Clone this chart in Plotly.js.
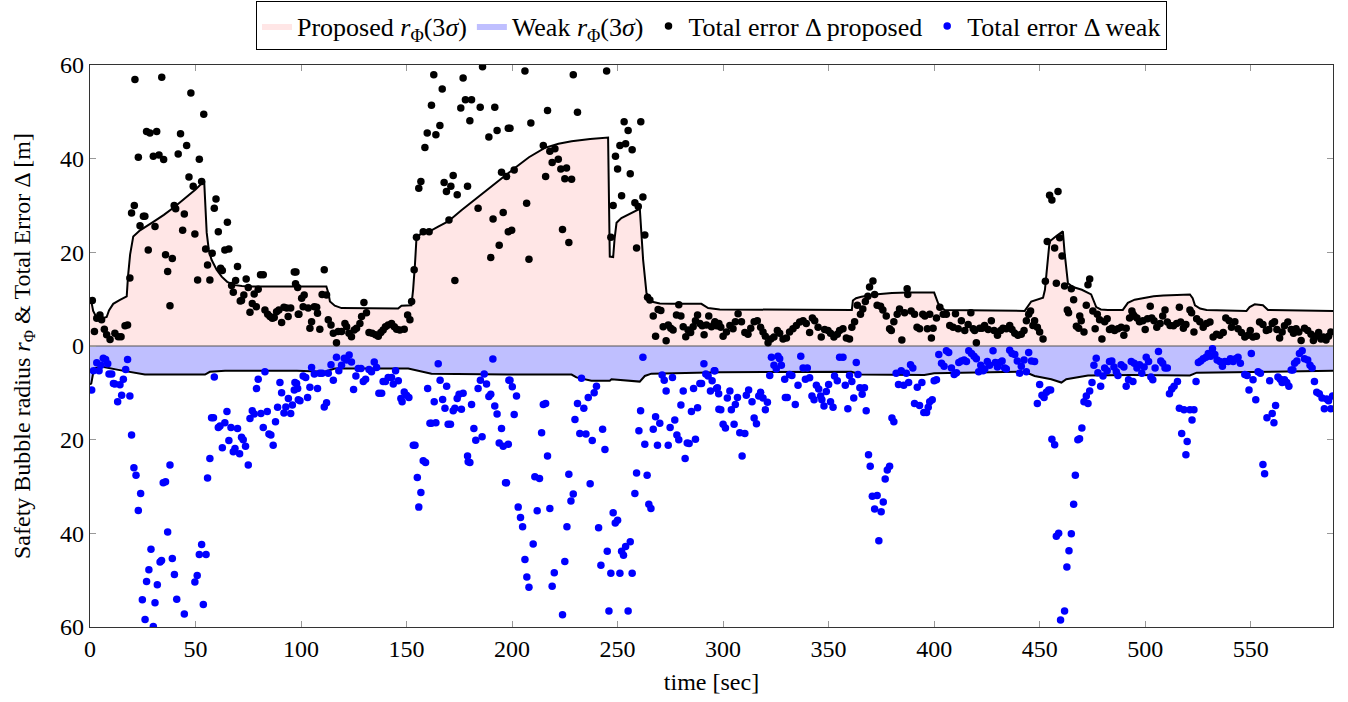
<!DOCTYPE html>
<html>
<head>
<meta charset="utf-8">
<script src="https://cdn.plot.ly/plotly-3.0.1.min.js"></script>
<style>html,body{margin:0;padding:0;background:#fff;}#chart{width:1348px;height:702px;}</style>
</head>
<body>
<div id="chart"></div>
<script>
// ---------- DATA ----------
const xTickVals = [0,50,100,150,200,250,300,350,400,450,500,550];
const yTickVals = [-60,-40,-20,0,20,40,60];
const yTickText = ['60','40','20','0','20','40','60'];

// Proposed safety bubble radius r_Phi(3 sigma) [m]
const propRadT = [0,0.5,1.5,3.2,5,7.9,9,11,14,17.4,18,19,20.5,23.7,30,35,40.3,45,50,54.1,55.3,56.3,57.6,60,62.4,65,68.7,72,76.6,98.6,112,113,113.7,116,119.2,146,147.6,152.3,153.1,154,154.7,157.9,161.8,165,169.7,176,182.4,190,196.6,201.3,208,215.5,222,228.2,237,245.5,246.3,247.9,248.6,249.5,251.8,256,259.7,260.5,261.3,262.1,263.7,266,270,275.5,289.7,292.9,298.4,330,361,361.5,363,365.5,371.8,380,387.5,400,401.9,403.5,405,442.9,446,451.6,452.5,453.2,454.7,457.9,461,461.8,462.6,463.4,465.8,470,474.4,476.8,479,482.3,489.4,491.8,495,499.2,504,508.6,521.2,522.5,523.6,526,529.1,548,549.5,551.9,555.8,558.2,589];
const propRadV = [9.6,9.8,7.5,6.0,5.8,6.2,7.6,9.0,9.8,10.6,14.8,19.5,23.4,24.7,26.5,28,29.8,31.5,33.4,35.2,24.2,20.5,18.4,16.3,14.8,13.7,13,12.8,12.7,12.7,12.7,11.2,9.5,8.6,8.1,8,8.6,8.7,12,17.5,23,24.5,24.7,25.5,26.6,29,31.3,34,36.5,38,40.3,42.3,43.2,43.7,44.2,44.5,19.1,19,23,26.3,27.3,28.2,29.1,29.5,24,18.4,11.3,9.5,9.1,9,9,8.1,7.8,7.7,7.7,9.7,10.2,10.5,11,11.3,11.4,11.4,9.1,8.1,7.7,7.5,9.5,10.3,12,15.3,22.3,23.5,24.5,20,16,13.4,12.6,12,11,8.3,7.8,7.7,7.7,9.2,9.9,10.3,10.6,10.8,11,10.2,8.7,8,7.7,7.5,8.3,8.9,8.7,7.7,7.5];

// Weak safety bubble radius r_Phi(3 sigma) [m] (drawn below zero)
const weakRadT = [0,0.6,1.9,5.3,13.4,20,26,54.5,56.8,64,98,111.3,116,150.8,154,161.8,198,228.2,230.5,237.6,246.3,247.1,260.5,262.9,266,278.7,298.4,360.7,365.5,395.4,400,442.9,447.6,455.5,460.3,462.6,472.9,493,521.2,524.4,548,589];
const weakRadV = [8.2,8,4.8,4.4,5.1,5.7,6.1,6.1,5.5,5.3,5.3,5.5,4.8,4.8,5.1,5.9,6.1,6.1,6.7,7.4,7.4,7.1,7.6,6.4,5.9,5.8,5.6,5.5,6.1,6.2,5.8,5.5,6.4,7.1,7.8,7.1,6.3,6.2,6.3,5.7,5.5,5.3];

// Total error Delta, proposed [m]
const propErrT = [1.1,2.1,3.2,4.7,5.5,6.8,7.9,9.5,11.8,13.4,14.7,16.6,17.8,18.9,19.7,21,21.3,22.9,23.7,25.3,26,26.8,28.4,27.6,30,30.8,31.6,32.7,34,34.9,35.8,36.8,37.9,39,39.9,40.6,41.8,42.9,43.9,44.7,45.8,46.9,47.8,48.9,49.7,51,51.8,52.9,53.9,54.8,55.7,56.8,57.9,58.9,59.7,60.8,61.9,62.7,63.9,65.1,65.8,67.1,67.9,69,69.9,71.2,71.8,72.9,74,75,75.8,76.9,77.8,78.8,79.7,80.8,82.1,82.9,84.2,85.3,86.4,87.3,88.4,89.5,90.8,91.9,93.2,93.9,95.1,96.8,97.4,98.7,
97.6,98.4,100.3,101.5,99,101,103.4,105,104.2,106.3,107.4,107.8,108.9,110,111,112.1,112.9,114.2,115.3,116.8,117.6,119.2,120.8,121.6,122.7,123.9,125.2,126.3,127.9,128.7,129.8,131,132.2,133.7,135.3,136.6,137.8,138.9,140,141.3,142.9,144.2,145.3,146.8,148.9,150.5,151.6,152.4,153.6,154.7,155.8,156.8,157.9,158.7,159.8,160.7,161.8,162.9,163.9,165.8,166.9,167.8,168.9,170.1,171,172.1,172.9,174,175.7,176.8,177.9,178.9,180,180.8,183.9,184.9,186,189,189.9,191,191.8,192.9,193.9,195,195.8,198.2,198.2,
199,197.4,199.8,201,206.1,206.9,208,208.9,214.8,215.9,216.8,217.9,219,220.3,221.9,223.1,223.9,225,225.8,226.9,228.2,229,231,244.8,246.8,247.9,249,250,251.1,253.1,253.8,255,256,256.9,251.9,258.2,259,259.8,261,262,262.9,264.2,265.3,266.9,268,269.2,270.5,271.6,273,274,275.2,276.3,277.9,279,280,281.1,282.3,283.4,284.6,285.8,286.9,287.9,289,290.1,291,292.1,293.2,294.5,295.8,296.9,298,
296.1,297.6,298.9,300,301.6,303.2,304.7,305.8,307.1,308.7,310.3,311.8,313.1,314.7,316.2,317.8,318.9,320,321.3,322.6,324.1,325.7,326.8,328.4,330,331.5,333.1,334.7,336.3,337.9,339.4,341,342.3,343.4,345,346.5,348.1,349.7,350.9,352.5,354.1,355.2,356.8,358.4,359.9,361,362.3,363.6,365.1,366.2,367.4,368.6,369.4,371,371.8,373,374.6,375.7,377.3,378.9,379.7,380.9,382.5,383.6,384.7,386,387.2,387.5,389.1,390.7,391.9,393.1,394.6,
395.6,396.8,397.9,399.5,398.7,401.1,402.7,404.3,405.8,407.4,409,410.1,411.4,412.9,414.5,416.1,417.4,418.5,419.2,420,421.6,422.7,423.9,425.6,427.1,428.4,430,431.5,432.6,434.2,435.8,436.9,438.2,439.7,441.3,442.6,443.7,444.8,445.7,446.8,447.6,448.9,450,451.6,452.7,453.6,454.7,455.8,457.1,458.7,459.5,460.6,457.9,461.8,463.1,463.7,465,466.1,467.4,468.5,469,469.7,471,472.1,472.9,473.7,475.2,476.3,477.3,478.4,479.5,480.8,482,483.1,484.2,485.5,487.1,488.6,489.9,491,492.6,494.2,
493.7,494.8,496.1,497.3,498.9,500,501.1,502.4,503.1,504.2,505.5,507.1,508.3,509.4,510.5,511.8,513.4,514.9,516.2,516.8,518.1,519.3,521.2,522,523.1,524.4,525.9,527.5,529.1,530.7,532.2,533.8,535.4,537,538.2,539.8,540.9,542.5,544,545.6,547.2,548.7,549.8,551.1,552.7,554.2,555.8,557.4,558.6,560.2,561.3,562.4,563.7,564.9,566,567.6,569.2,570.3,571.5,572.8,573.9,575.5,577,578.6,579.7,581,582.2,583.3,584.4,585.7,586.9,588];
const propErrV = [9.7,3.1,5.9,6.6,5.6,3.6,2.4,1.4,2.7,2.0,2.0,4.3,4.5,14.5,28.4,30,56.9,40.3,25.7,27.7,27.7,45.8,45.5,20.5,40.5,25.5,45.8,40.8,57.4,39.8,19.5,15.9,8.6,18.7,30,29.3,41,45.3,24.7,28.2,42.8,36.1,54,34.1,23.9,14.1,39.9,35.1,49.5,20.7,17.3,14.1,19.8,29.4,31.4,24.4,16.6,16.1,20.5,26.4,20.7,12.9,11.5,14,17,9.6,9.7,10.9,14.3,12.5,7.2,9.1,11.1,8.4,12.1,15.2,15.2,7.7,6.8,6.3,5.9,6.1,7.3,7.7,5.0,8.3,8.1,6.3,8.1,15.8,13.3,6.8,
15.8,12.5,10.2,10.9,6.8,8.4,8.1,5.2,3.8,8.4,8.3,7,3.6,11,16.3,10.9,5.6,4.5,2.7,0.7,3.1,3.1,4.8,4.1,2.7,2.0,3.4,3.8,4.8,6.3,9.3,7.1,2.9,2.7,2.4,2.1,2.9,3.4,4.1,4.5,4.8,4.1,3.6,3.4,3.6,6.6,5.6,9.5,16.3,23.2,33.7,35.1,24.4,42.4,45.5,24.4,51.4,57.9,45.1,47.1,54.9,34.9,33,26.9,34.1,36.4,14,32.3,50.8,57.2,52.6,34.1,48.1,52.6,29.4,51,59.6,44.6,18.9,27.1,51,46,21.5,37.1,28.5,46.5,24.4,
46.5,36.2,24.7,37.6,58.7,30.5,18.5,47.6,42.8,36.2,50.3,41.6,39.2,42.1,39.9,37.8,24.9,35.7,38,22.1,35.6,57.9,49.9,58.7,23.2,30,40.5,37.8,42.8,47.9,43.2,46,36.8,41.9,32.1,30.6,20.9,29.8,47.9,31.8,23.7,10.4,9.8,6.4,2.1,7.8,7.6,4.1,1.1,4.5,3.8,3.4,6.6,8.8,6.4,4.1,2,3.4,2.9,4.1,5.4,6.6,4.8,4.3,2.4,4.5,6.4,4.1,4.7,4.3,4.8,
5.2,4.4,4.0,2.1,3.0,4.4,3.7,5.2,6.9,5.2,2.9,2.5,3.8,5.2,5.4,4.0,3.0,2.1,0.7,1.5,1.9,3.3,2.7,1.5,1.7,3.0,3.7,4.4,5.1,5.4,4.8,2.9,6.0,5.4,4.0,1.9,3.5,3.3,2.7,1.9,2.5,3.3,3.7,1.7,1.5,4.0,5.2,8.7,6.8,7.9,9.5,10.6,12.6,13.9,11.0,8.7,8.5,7.7,6.4,3.7,3.3,5.2,6.8,7.9,1.3,7.1,12.2,11.0,7.5,6.8,4.0,3.7,6.8,
6.4,3.7,6.8,3.8,1.7,6.0,8.3,6.8,6.8,4.4,4.0,6.9,3.7,5.4,3.3,4.6,7.1,3.7,3.3,0.7,3.8,3.8,4.4,3.5,5.4,3.3,2.3,3.3,3.8,3.7,4.4,3.5,2.7,2.3,2.5,3.3,5.4,6.8,7.5,4.4,5.4,4.0,3.0,1.5,13.8,22.3,32.2,31.2,20.9,33.0,23.1,19.2,13.4,12.8,7.7,7.1,12.2,9.9,4.2,3.8,6.4,5.4,3.0,8.7,13.1,14.3,7.5,3.7,6.8,5.6,1.5,5.2,5.8,3.5,3.8,3.3,3.7,4.0,2.3,3.8,6.0,6.8,
7.5,6.4,6.0,5.2,5.4,3.5,5.8,8.5,6.0,5.4,4.0,4.8,6.4,7.7,5.1,4.4,4.3,4.8,8.3,5.1,3.8,4.6,7.7,7.1,3.0,5.8,5.2,4.0,4.8,5.1,1.9,2.5,2.3,2.9,6.0,5.4,4.0,5.2,3.7,2.9,1.9,2.3,3.3,1.9,2.1,5.1,4.6,3.3,3.5,4.8,5.2,3.5,1.7,3.0,4.3,5.1,3.5,2.7,3.7,3.0,1.2,3.8,3.3,2.5,1.2,2.1,2.9,1.5,1.9,1.3,2.1,3.0];

// Total error Delta, weak [m] (magnitudes, drawn below zero)
const weakErrT = [0.8,1.6,3.2,4.3,5.2,6.3,7.4,8.4,9,10.3,11.1,11.8,13.1,14.2,15,15.8,16.9,17.8,18.9,19.7,20.8,21.8,22.9,24,24.8,26.1,26.8,27.9,28.9,30,30.8,31.9,33.2,33.9,34.7,35.8,36.8,37.9,39,40,41.1,44.7,49.7,50.8,51.8,52.9,53.7,55,55.7,56.8,58.9,57.6,58.5,60.8,61.6,62.7,63.9,64.9,65.8,66.8,67.9,68.7,69.9,70.9,71.8,72.6,73.7,75,75.8,76.9,77.8,78.9,79.7,81,82.1,82.9,84,84.8,85.7,86.8,87.9,88.9,90,90.8,91.9,92.8,94,95.1,95.9,96.8,97.9,98.7,
97.1,98.4,99.5,101,102.2,103.1,104.2,105,106.3,107.8,108.9,110,111,112.1,112.9,114.2,115.3,116.8,117.9,119.2,120.5,121.6,122.8,123.9,124.9,126,127.1,128.4,129.5,130.6,132.2,133.4,134.7,135.8,136.9,138.2,138.9,140,141.3,142.9,143.7,144.8,146.1,147.3,147.9,148.9,150,151.1,153.2,154,157.9,159,155.1,156.8,155.8,160,163.1,165,165.9,167.1,168.2,169,161.1,161.8,163.9,169.7,170.8,172.1,172.9,174,174.9,176,176.8,178.9,179.2,180,180.8,181.9,182.8,183.9,185,185.8,186.8,187.9,189,189.9,190.9,191.8,192.9,193.9,195,195.8,196.9,198.2,198.5,
197.4,199,200.1,201,202.1,202.9,204,205,206.1,207,208,210,210.8,211.9,213,214,214.8,215.9,216.8,217.9,219,220,223.9,225,226,226.9,227.9,229,229.8,231,232.1,232.9,234,235,236.1,237,238,238.9,240,241,242.1,242.9,244,245.1,245.9,246.8,247.9,248.9,250,251.1,251.9,252.8,253.8,255,256,256.9,258.2,259,260.1,260.9,262,262.9,264,264.8,265.8,266.9,268,268.9,270,271.1,272.1,273,274,274.9,276,277.1,278.1,279,280,281.1,282,283,283.9,285,286,286.9,287.9,289,289.8,290.9,291.8,292.9,294,294.8,295.8,296.9,298,
296.1,297.3,297.9,298.9,300,301.1,302,303.2,303.9,305.2,305.8,306.8,307.9,309,310.3,311,312.1,313.7,314.7,315.8,316.9,317.8,318.9,320,321,322.1,322.9,324.1,325.2,326,326.8,327.6,329.2,329.5,330.4,331.5,332.6,334.2,335.5,336.8,337.9,339,339.9,341,342.1,343.1,344.2,345.3,346.2,346.8,347.8,348.9,350,350.9,352.1,352.8,354.1,355.2,356.8,357.9,359.1,359.9,361,361.9,363.1,363.9,364.8,365.9,367,367.8,368.9,369.7,370.7,371.8,373,373.8,374.9,375.9,376.8,377.8,378.9,380,380.9,382,383.1,384.4,385.6,386.8,387.9,388.8,389.9,390.7,392,393.1,394.2,395.1,
396.4,397.2,397.9,399.1,400,401.1,402.2,403.5,404.7,405.8,406.9,408.2,409.5,410.6,411.7,412.9,414.2,415.3,416.4,417.7,418.9,420,421.1,422.1,423.2,424,425.2,426.3,427.9,429,430,431.1,432.2,433.4,434.2,435.8,436.9,438.2,439.4,440.5,441.3,442.6,443.7,444.8,446.1,447.6,448.9,450,451.1,452.1,453.2,454.3,455.2,455.8,457.1,457.9,459,459.9,461.8,462.9,463.9,465,466.1,466.9,468.1,468.9,470,471,472.1,472.9,473.7,474.8,475.7,476.8,477.6,478.9,480,480.8,482,483.1,484.2,485.2,486.3,487.1,488.6,489.9,491,492.1,493.4,
494.2,494.8,496.1,497.3,498.4,499.5,500.5,501.6,502.7,503.6,504.7,506.3,507.4,508.3,509.4,510.5,511.5,512.6,513.7,515.3,516.2,517.3,518.4,519.3,519.9,521.2,522.2,523.1,524.1,525.2,526.3,527.5,528.8,529.9,531,531.9,533,534.1,535.4,536.6,537.7,539.3,540.4,541.7,542.9,544,545.1,547.2,548.3,549.2,550.3,551.1,552.4,553.5,554.6,555.8,556.6,557.7,559,560.2,561,561.8,562.9,564,564.9,566,567.1,568.1,569.2,570,570.8,571.9,573.1,574.4,575.5,577,578.1,579.1,580.2,581.3,582.5,583.8,584.9,586,586.9,588,588.8];
const weakErrV = [9.4,5.3,3.6,5.3,4.1,2.6,2.9,3.8,6.0,6.0,8.0,8.1,11.9,8.3,10.5,7.1,5.0,2.9,10.7,19.0,26.0,27.6,35.1,31.5,54.2,58.4,50.3,47.8,43.4,59.9,54.8,51.0,46.1,45.8,29.2,29.0,39.7,25.4,45.4,48.8,54.1,57.2,50.4,49.0,44.5,42.4,55.2,44.5,28.2,24.0,6.6,15.3,15.3,17.4,17.1,21.7,16.4,14.0,20.2,17.4,22.6,21.9,17.6,23.0,19.5,20.0,21.4,25.4,15.5,13.8,14.5,9.1,7.1,14.4,17.4,5.5,14.0,18.8,19.0,21.2,16.2,13.1,7.8,10.0,14.3,13.0,11.2,14.4,12.6,9.4,8.0,11.5,
7.8,9.1,11.7,6.4,6.7,11.0,8.8,4.6,6.0,9.1,5.8,5.8,13.0,12.1,5.8,4.0,7.3,2.4,5.3,4.1,2.6,3.0,1.9,3.4,9.3,6.4,4.8,4.8,7.6,7.1,5.0,5.5,3.4,4.6,10.1,10.1,7.6,7.6,6.7,6.7,8.1,5.3,7.4,11.2,11.9,9.8,10.5,11.0,21.2,21.2,24.5,24.9,28.1,31.3,34.4,9.1,11.9,3.8,7.3,11.4,13.3,8.6,16.5,16.5,16.4,16.7,16.7,13.8,13.3,11.2,10.3,13.5,10.1,23.5,24.7,24.9,12.5,17.6,20.1,9.1,7.3,19.4,6.0,8.1,10.8,10.3,2.8,12.8,14.5,20.7,17.6,21.4,29.2,21.0,7.3,
29.2,7.3,8.7,14.6,10.7,34.4,36.6,38.6,45.6,49.3,51.5,42.3,27.9,35.2,28.3,18.5,12.5,12.3,23.5,34.7,51.3,48.4,57.4,46.0,38.6,27.4,33.1,31.6,15.7,12.3,18.7,6.9,13.3,18.8,11.0,29.4,20.2,10.0,8.6,38.8,46.8,17.8,22.1,43.8,56.6,48.5,35.6,37.8,37.2,48.5,43.8,44.7,42.8,56.6,41.8,48.5,31.5,27.1,18.1,13.8,2.4,21.0,27.6,33.8,34.7,17.8,15.1,21.2,16.5,6.2,7.3,9.6,21.2,17.4,6.7,15.8,19.0,20.0,12.6,9.6,24.0,20.7,20.8,14.0,9.1,19.9,13.2,8.0,8.0,3.8,6.0,6.4,9.6,7.4,5.3,9.1,13.5,
5.3,8.9,10.2,13.6,16.7,17.5,11.1,9.6,13.6,16.7,12.5,11.0,18.5,23.5,18.7,10.5,9.4,11.9,15.4,16.6,10.7,9.9,11.1,13.6,12.0,6.3,2.4,4.1,4.9,2.2,2.7,4.1,7.1,11.0,11.0,6.1,6.3,12.5,8.4,2.2,4.7,7.1,4.7,6.8,10.7,11.5,8.4,9.2,10.7,11.5,12.8,9.7,8.2,11.9,13.1,6.4,7.4,2.4,2.4,8.4,13.4,6.3,7.6,11.1,3.5,6.1,8.9,10.3,8.9,13.8,23.2,25.7,32.1,34.8,31.9,41.6,35.4,33.3,28.4,26.5,25.7,15.4,16.2,5.8,8.2,5.3,8.4,5.8,7.8,4.0,4.7,12.3,8.8,12.7,7.8,14.2,
14.2,13.1,11.9,11.5,7.4,7.2,1.8,3.7,4.3,1.0,1.4,4.7,6.1,5.7,3.5,3.2,3.0,3.3,1.0,1.6,2.2,2.7,5.5,4.1,5.3,4.9,3.3,4.1,1.0,3.5,4.5,3.5,3.2,4.7,4.9,0.9,1.6,1.8,3.2,5.8,4.3,3.0,5.5,1.4,3.2,3.3,12.3,8.2,10.5,11.0,9.9,9.4,9.4,19.9,21.1,40.6,40.0,58.5,56.6,47.2,43.7,40.1,33.8,27.6,20.0,19.8,17.5,11.9,10.7,12.3,9.6,7.8,4.1,2.6,5.7,8.6,6.4,4.7,5.3,3.3,3.2,4.5,5.5,6.3,4.0,4.5,8.6,7.2,3.3,
7.6,3.7,4.7,4.0,5.8,4.5,2.4,3.3,6.6,7.2,4.7,1.2,3.2,3.7,4.7,4.7,10.2,9.2,8.6,7.6,13.3,18.7,13.6,23.2,20.4,13.6,15.8,13.6,7.6,3.5,3.2,2.7,2.4,1.6,2.2,0.6,1.8,3.0,3.3,4.3,3.3,3.3,2.7,3.3,2.7,2.4,3.7,6.1,6.3,9.4,1.6,7.2,11.5,5.5,5.8,25.3,27.3,15.3,7.4,14.4,16.4,12.7,6.6,7.1,7.8,7.2,7.8,8.6,5.1,5.1,3.7,3.2,1.6,1.0,2.7,3.0,4.1,4.7,7.6,9.9,10.2,11.1,13.4,11.3,11.7,13.4,10.7];

const legendNames = [
  'Proposed <i>r</i><sub>Φ</sub>(3<i>σ</i>)',
  'Weak <i>r</i><sub>Φ</sub>(3<i>σ</i>)',
  'Total error Δ proposed',
  'Total error Δ weak'
];

// ---------- PLOT ----------
const neg = a => a.map(v => -v);
const FONT = 'Liberation Serif, "DejaVu Serif", serif';

const traces = [
  {x: propRadT, y: propRadV, type:'scatter', mode:'lines', fill:'tozeroy',
   fillcolor:'rgb(255,230,230)', line:{width:0, color:'rgba(0,0,0,0)'}, name: legendNames[0], hoverinfo:'skip'},
  {x: weakRadT, y: neg(weakRadV), type:'scatter', mode:'lines', fill:'tozeroy',
   fillcolor:'rgb(191,191,255)', line:{width:0, color:'rgba(0,0,0,0)'}, name: legendNames[1], hoverinfo:'skip'},
  {x: weakRadT, y: weakRadT.map(() => 0), type:'scatter', mode:'lines',
   line:{color:'#555', width:1}, showlegend:false, hoverinfo:'skip'},
  {x: propRadT, y: propRadV, type:'scatter', mode:'lines',
   line:{color:'#000', width:2}, showlegend:false},
  {x: weakRadT, y: neg(weakRadV), type:'scatter', mode:'lines',
   line:{color:'#000', width:2}, showlegend:false},
  {x: propErrT, y: propErrV, type:'scatter', mode:'markers',
   marker:{color:'#000', size:7.5}, name: legendNames[2]},
  {x: weakErrT, y: neg(weakErrV), type:'scatter', mode:'markers',
   marker:{color:'#0000ff', size:7.5}, name: legendNames[3]}
];

const axisCommon = {
  showgrid:false, zeroline:false, showline:true, linecolor:'#333', linewidth:1.3,
  mirror:'ticks', ticks:'inside', ticklen:6, tickcolor:'#999', tickwidth:1,
  tickfont:{family:FONT, size:24, color:'#000'}, automargin:false
};

const layout = {
  width:1348, height:702,
  margin:{l:90, r:15, t:65, b:75, autoexpand:false},
  paper_bgcolor:'#fff', plot_bgcolor:'#fff',
  font:{family:FONT, size:24, color:'#000'},
  showlegend:true,
  legend:{orientation:'h', x:0.5, xanchor:'center', y:1.113, yanchor:'top',
    bordercolor:'#000', borderwidth:1, bgcolor:'#fff',
    font:{family:FONT, size:26, color:'#000'}, itemwidth:30, traceorder:'normal'},
  xaxis: Object.assign({}, axisCommon, {
    range:[0,589], tickvals:xTickVals,
    title:{text:'time [sec]', font:{family:FONT, size:24}, standoff:12}
  }),
  yaxis: Object.assign({}, axisCommon, {
    range:[-60,60], tickvals:yTickVals, ticktext:yTickText,
    title:{text:'Safety Bubble radius <i>r</i><sub>Φ</sub> & Total Error Δ [m]', font:{family:FONT, size:24}, standoff:22}
  })
};

Plotly.newPlot('chart', traces, layout, {displayModeBar:false, staticPlot:true});
</script>
</body>
</html>
